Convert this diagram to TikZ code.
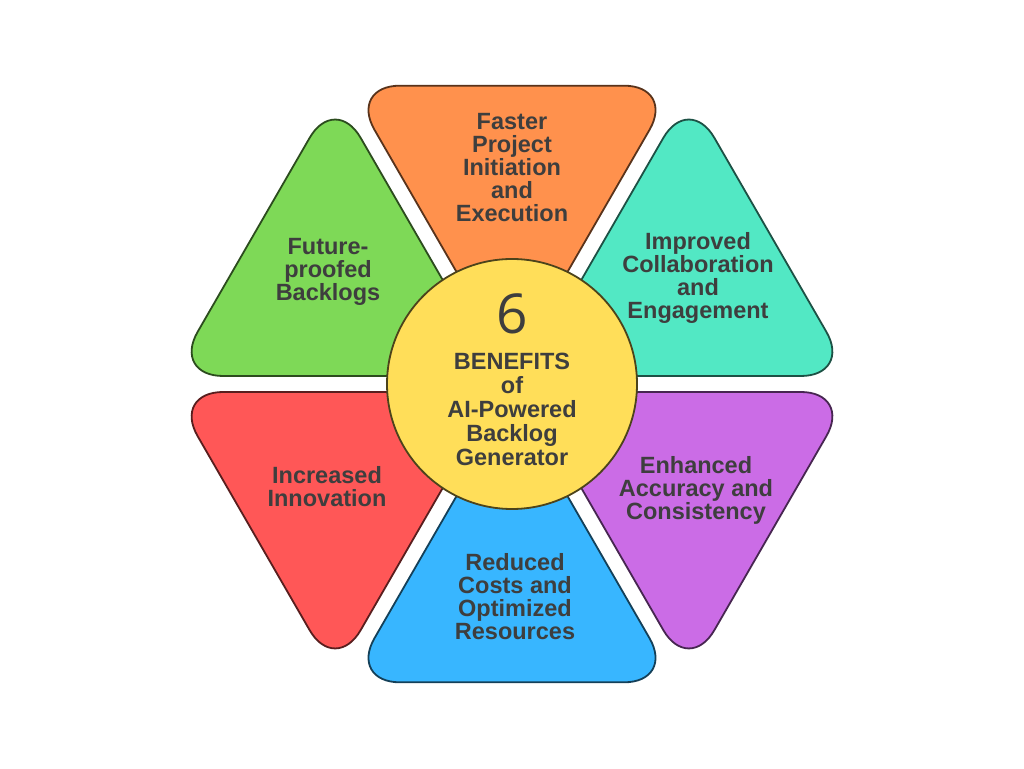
\documentclass[tikz,border=0pt]{standalone}
\usepackage{fontspec}
\setmainfont{Open Sans}
\newfontfamily\lblfont{Liberation Sans}
\usetikzlibrary{calc}
\definecolor{cOrange}{HTML}{FF914D}
\definecolor{cGreen}{HTML}{7ED957}
\definecolor{cRed}{HTML}{FF5757}
\definecolor{cBlue}{HTML}{38B6FF}
\definecolor{cPurple}{HTML}{CB6CE6}
\definecolor{cTeal}{HTML}{52E8C4}
\definecolor{cYellow}{HTML}{FFDE59}
\definecolor{txt}{HTML}{3E3E3E}
\begin{document}
\begin{tikzpicture}[x=1pt,y=1pt,
  petal/.style={line width=1.8pt, rounded corners=51pt, line join=round},
  lbl/.style={align=center, font=\lblfont\fontsize{23.5}{23}\selectfont\bfseries, text=txt, inner sep=0pt}]
\useasboundingbox (0,0) rectangle (1024,768);
\fill[white] (0,0) rectangle (1024,768);
\coordinate (O) at (512,384);
\foreach \ang/\col in {90/cOrange,150/cGreen,210/cRed,270/cBlue,330/cPurple,30/cTeal}{
  \path (O) ++(\ang:16) coordinate (A) ++(\ang-30:326) coordinate (P);
  \path (A) ++(\ang+30:326) coordinate (Q);
  \draw[petal, fill=\col, draw=\col!35!black] ($(P)!0.5!(Q)$) -- (Q) -- (A) -- (P) -- cycle;
}
\node[circle, minimum size=250pt, inner sep=0pt, fill=cYellow, draw=cYellow!30!black, line width=1.8pt] (hub) at (O) {};
\node[text=txt, inner sep=0pt, font=\fontsize{55}{55}\selectfont] (six) at (512,454) {6};
\node[lbl, font=\lblfont\fontsize{23.5}{24}\selectfont\bfseries] (title) at (512,358.5) {BENEFITS\\of\\AI-Powered\\Backlog\\Generator};
\node[lbl] (t1) at (512,600.5) {Faster\\Project\\Initiation\\and\\Execution};
\node[lbl] (t2) at (328,496.5) {Future-\\proofed\\Backlogs};
\node[lbl] (t3) at (698,490.5) {Improved\\Collaboration\\and\\Engagement};
\node[lbl] (t4) at (327,281.5) {Increased\\Innovation};
\node[lbl] (t5) at (696,278) {Enhanced\\Accuracy and\\Consistency};
\node[lbl] (t6) at (515,171.5) {Reduced\\Costs and\\Optimized\\Resources};
\end{tikzpicture}
\end{document}
